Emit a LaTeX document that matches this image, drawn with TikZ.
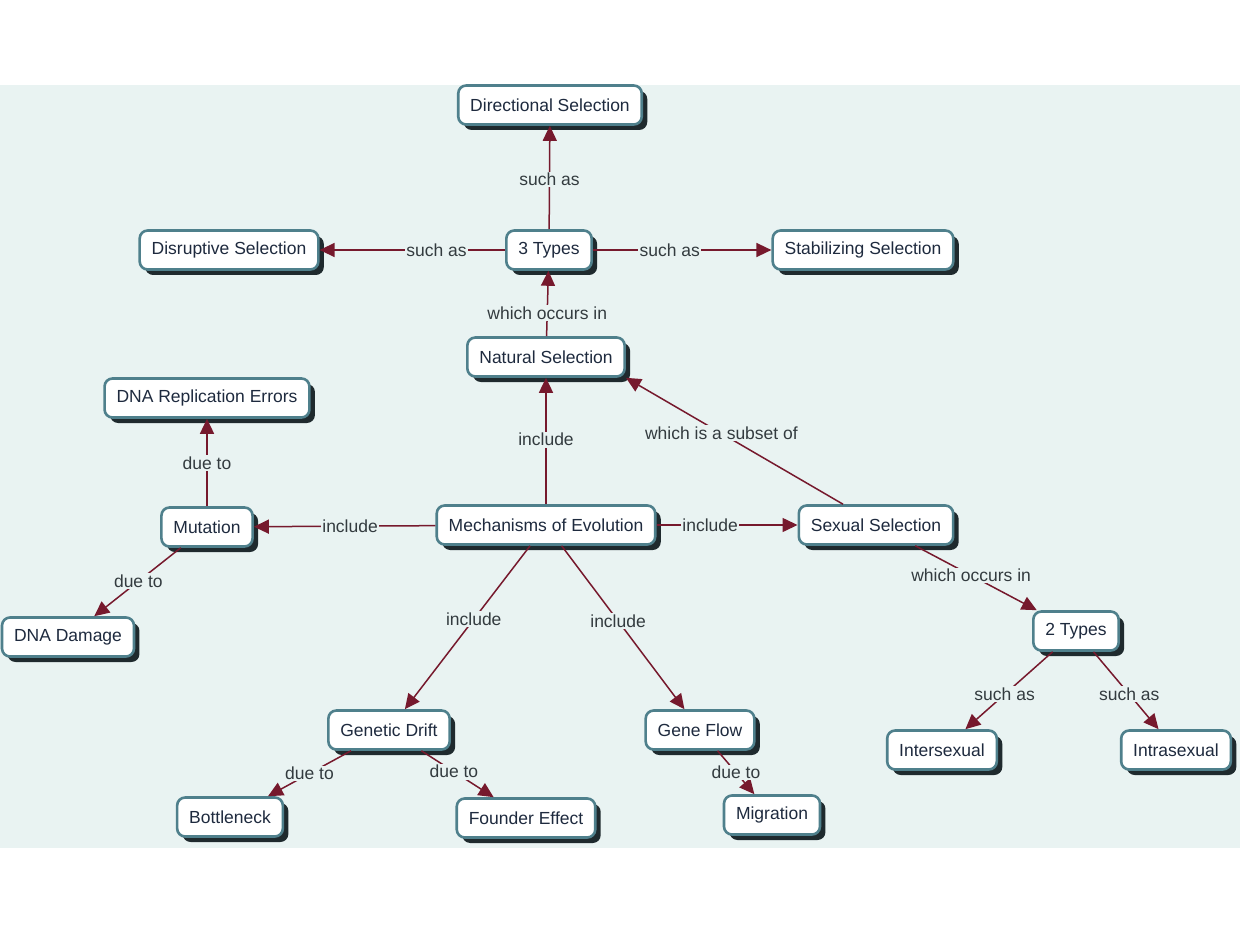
\documentclass[tikz,border=0pt]{standalone}
\usepackage{fontspec}
\setmainfont{Liberation Sans}
\usetikzlibrary{arrows.meta,shadows}
\definecolor{bgc}{HTML}{E9F3F2}
\definecolor{bord}{HTML}{4F808C}
\definecolor{shad}{HTML}{1F2A2E}
\definecolor{linec}{HTML}{76192D}
\definecolor{ntext}{HTML}{1E2A3E}
\definecolor{ltext}{HTML}{333B3F}
\tikzset{
  concept/.style={draw=bord, line width=2.6pt, fill=white, rounded corners=8pt,
    minimum height=39pt, inner xsep=12pt, text=ntext,
    font=\fontsize{17.5}{20}\selectfont,
    drop shadow={shadow xshift=5.5pt, shadow yshift=-5.5pt, fill=shad, opacity=1}},
  link/.style={draw=linec, line width=1.5pt, -{Triangle[length=15pt,width=14pt]}},
  lbl/.style={fill=bgc, inner sep=1.5pt, text=ltext, font=\fontsize{17.5}{20}\selectfont}
}
\begin{document}
\begin{tikzpicture}[x=1pt,y=-1pt]
\useasboundingbox (0,0) rectangle (1240,933);
\fill[white] (0,0) rectangle (1240,933);
\fill[bgc] (0,85) rectangle (1240,848);

\node[concept] (dir) at (550,105) {Directional Selection};
\node[concept] (dis) at (229,250) {Disruptive Selection};
\node[concept] (t3) at (549,250) {3 Types};
\node[concept] (stab) at (863,250) {Stabilizing Selection};
\node[concept] (nat) at (546,357) {Natural Selection};
\node[concept] (dre) at (207,398) {DNA Replication Errors};
\node[concept] (mut) at (207,527) {Mutation};
\node[concept] (mech) at (546,525) {Mechanisms of Evolution};
\node[concept] (sex) at (876,525) {Sexual Selection};
\node[concept] (dd) at (68,637) {DNA Damage};
\node[concept] (t2) at (1076,631) {2 Types};
\node[concept] (gd) at (389,730) {Genetic Drift};
\node[concept] (gf) at (700,730) {Gene Flow};
\node[concept] (inter) at (942,750) {Intersexual};
\node[concept] (intra) at (1176,750) {Intrasexual};
\node[concept] (bot) at (230,817) {Bottleneck};
\node[concept] (fe) at (526,818) {Founder Effect};
\node[concept] (mig) at (772,815) {Migration};

\draw[link] (t3) -- node[lbl,pos=0.48] {such as} (dir);
\draw[link] (t3) -- node[lbl,pos=0.37] {such as} (dis);
\draw[link] (t3) -- node[lbl,pos=0.43] {such as} (stab);
\draw[link] (nat) -- node[lbl,pos=0.35] {which occurs in} (t3);
\draw[link] (mech) -- node[lbl,pos=0.51] {include} (nat);
\draw[link] ([xshift=-33pt]sex.north) -- node[lbl,pos=0.56] {which is a subset of} (nat.south east);
\draw[link] (mech) -- node[lbl,pos=0.47] {include} (mut);
\draw[link] (mech) -- node[lbl,pos=0.38] {include} (sex);
\draw[link] (mut) -- node[lbl,pos=0.49] {due to} (dre);
\draw[link] (mut) -- node[lbl,pos=0.49] {due to} (dd);
\draw[link] (mech) -- node[lbl,pos=0.45] {include} (gd);
\draw[link] (mech) -- node[lbl,pos=0.46] {include} (gf);
\draw[link] (sex) -- node[lbl,pos=0.46] {which occurs in} (t2);
\draw[link] (t2) -- node[lbl,pos=0.55] {such as} (inter);
\draw[link] (t2) -- node[lbl,pos=0.55] {such as} (intra);
\draw[link] (gd) -- node[lbl,pos=0.5] {due to} (bot);
\draw[link] (gd) -- node[lbl,pos=0.45] {due to} (fe);
\draw[link] (gf) -- node[lbl,pos=0.5] {due to} (mig);
\end{tikzpicture}
\end{document}
